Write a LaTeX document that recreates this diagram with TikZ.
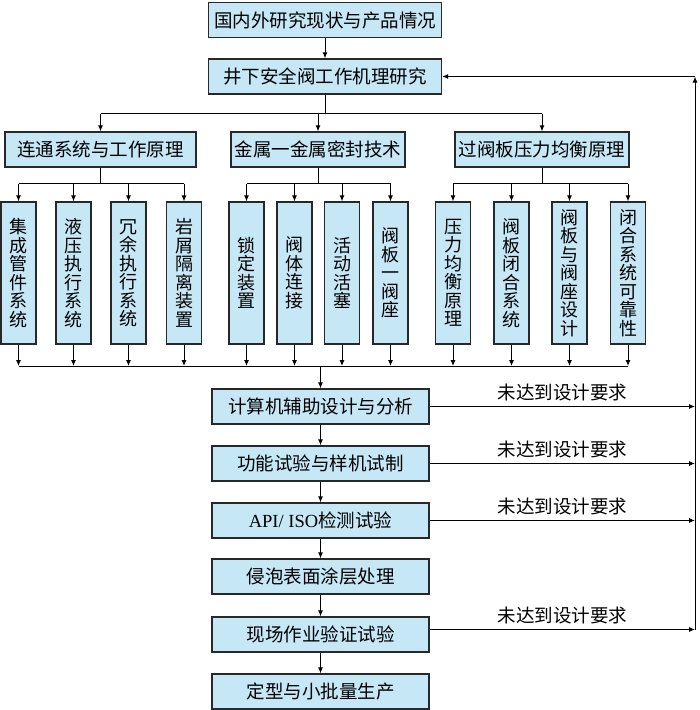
\documentclass[tikz,border=0pt]{standalone}
\usepackage{fontspec}
\setmainfont{Liberation Serif}
\newfontfamily\cjk{Noto Sans CJK SC}
\usetikzlibrary{arrows.meta,calc}
\definecolor{boxfill}{RGB}{198,231,246}
\definecolor{boxline}{RGB}{40,40,40}
\begin{document}
\begin{tikzpicture}[x=1pt,y=-1pt,
  hbox/.style={draw=boxline, line width=1.2pt, fill=boxfill, minimum height=35pt, inner sep=0pt, font=\cjk\fontsize{18.5}{20}\selectfont},
  vbox/.style={draw=boxline, line width=1.2pt, fill=boxfill, minimum width=35pt, minimum height=142pt, inner sep=0pt, align=center, font=\cjk\fontsize{18}{18.5}\selectfont},
  arr/.style={-{Latex[length=6pt,width=5pt]}, line width=1pt},
  ln/.style={line width=1pt},
  lab/.style={font=\cjk\fontsize{18.5}{20}\selectfont, inner sep=0pt}]
\useasboundingbox (0,0) rectangle (700,710);
% top
\node[hbox, minimum width=233pt] (t1) at (325,20) {国内外研究现状与产品情况};
\node[hbox, minimum width=233pt] (t2) at (325,76.5) {井下安全阀工作机理研究};
% level 2
\node[hbox, minimum width=191pt] (A) at (100.5,149.5) {连通系统与工作原理};
\node[hbox, minimum width=174pt] (B) at (318,149.5) {金属一金属密封技术};
\node[hbox, minimum width=174pt] (C) at (542,149.5) {过阀板压力均衡原理};
% vertical boxes
\node[vbox] (v1) at (18.5,273) {集\\成\\管\\件\\系\\统};
\node[vbox] (v2) at (73.5,273) {液\\压\\执\\行\\系\\统};
\node[vbox] (v3) at (128.5,273) {冗\\余\\执\\行\\系\\统};
\node[vbox] (v4) at (184,273) {岩\\屑\\隔\\离\\装\\置};
\node[vbox] (v5) at (246.5,273) {锁\\定\\装\\置};
\node[vbox] (v6) at (294.5,273) {阀\\体\\连\\接};
\node[vbox] (v7) at (342,273) {活\\动\\活\\塞};
\node[vbox] (v8) at (390.5,273) {阀\\板\\一\\阀\\座};
\node[vbox] (v9) at (453,273) {压\\力\\均\\衡\\原\\理};
\node[vbox] (v10) at (511.5,273) {阀\\板\\闭\\合\\系\\统};
\node[vbox] (v11) at (569.5,273) {阀\\板\\与\\阀\\座\\设\\计};
\node[vbox] (v12) at (628,273) {闭\\合\\系\\统\\可\\靠\\性};
% lower chain
\node[hbox, minimum width=217pt] (c1) at (320.5,406.5) {计算机辅助设计与分析};
\node[hbox, minimum width=217pt] (c2) at (320.5,463.5) {功能试验与样机试制};
\node[hbox, minimum width=217pt] (c3) at (320.5,520.5) {{\rmfamily API/ ISO}检测试验};
\node[hbox, minimum width=217pt] (c4) at (320.5,576.5) {侵泡表面涂层处理};
\node[hbox, minimum width=217pt] (c5) at (320.5,634.5) {现场作业验证试验};
\node[hbox, minimum width=217pt] (c6) at (320.5,691.5) {定型与小批量生产};
% connectors top
\draw[arr] (t1) -- (t2);
\coordinate (s0) at ($(t2.south)+(0,19)$);
\draw[ln] (t2.south) -- (s0);
\draw[ln] (A.north |- s0) -- (C.north |- s0);
\foreach \n in {A,B,C} \draw[arr] (\n.north |- s0) -- (\n.north);
% splits
\coordinate (sa) at ($(A.south)+(0,16)$);
\coordinate (sb) at ($(B.south)+(0,16)$);
\coordinate (sc) at ($(C.south)+(0,16)$);
\draw[ln] (A.south) -- (sa);
\draw[ln] (B.south) -- (sb);
\draw[ln] (C.south) -- (sc);
\draw[ln] (v1.north |- sa) -- (v4.north |- sa);
\draw[ln] (v5.north |- sb) -- (v8.north |- sb);
\draw[ln] (v9.north |- sc) -- (v12.north |- sc);
\foreach \v in {v1,v2,v3,v4} \draw[arr] (\v.north |- sa) -- (\v.north);
\foreach \v in {v5,v6,v7,v8} \draw[arr] (\v.north |- sb) -- (\v.north);
\foreach \v in {v9,v10,v11,v12} \draw[arr] (\v.north |- sc) -- (\v.north);
% merge
\coordinate (bl) at (320.5,366);
\draw[ln] (v1.south |- bl) -- (v12.south |- bl);
\foreach \v in {v1,v2,v3,v4,v5,v6,v7,v8,v9,v10,v11,v12} \draw[arr] (\v.south) -- (\v.south |- bl);
\draw[arr] (bl) -- (c1.north);
\draw[arr] (c1) -- (c2);
\draw[arr] (c2) -- (c3);
\draw[arr] (c3) -- (c4);
\draw[arr] (c4) -- (c5);
\draw[arr] (c5) -- (c6);
% feedback
\coordinate (fr) at (695,76.5);
\coordinate (e1) at (c1.east);
\coordinate (e2) at (c2.east);
\coordinate (e3) at (c3.east);
\coordinate (e5) at ($(c5.east)+(0,-5)$);
\foreach \c in {e1,e2,e3,e5} {
  \draw[arr] (\c) -- (\c -| fr);
  \node[lab] at ($(\c)!0.5!(\c -| fr)+(0,-14)$) {未达到设计要求};
}
\draw[arr] (e5 -| fr) -- (fr);
\draw[arr] (fr) -- (t2.east);
\end{tikzpicture}
\end{document}
